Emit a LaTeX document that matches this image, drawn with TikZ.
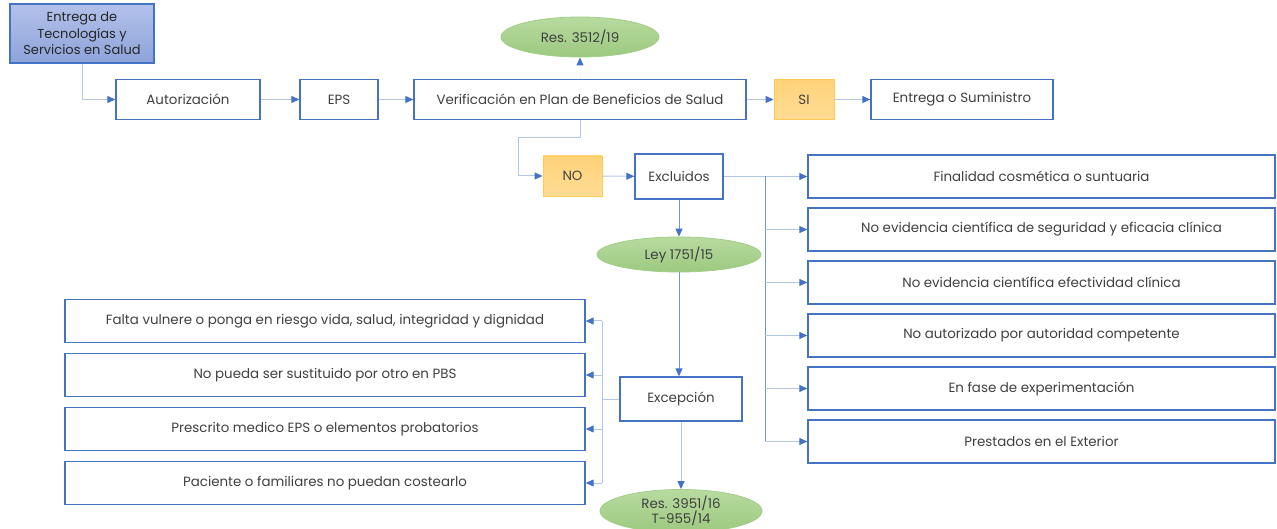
\documentclass[tikz,border=0pt]{standalone}
\usepackage{fontspec}
\setmainfont{Poppins}
\usetikzlibrary{arrows.meta,shapes.geometric,positioning}

\definecolor{boxblue}{HTML}{4472C4}
\definecolor{linelight}{HTML}{B4C7E7}
\definecolor{linemid}{HTML}{7096D6}
\definecolor{txt}{HTML}{404040}
\definecolor{entTop}{HTML}{B3C1EA}
\definecolor{entBot}{HTML}{8DA3DA}
\definecolor{yelTop}{HTML}{FFD27A}
\definecolor{yelBot}{HTML}{FFDD94}
\definecolor{yelLine}{HTML}{FFCB52}
\definecolor{grnTop}{HTML}{B8DBA0}
\definecolor{grnBot}{HTML}{9CC97F}
\definecolor{grnLine}{HTML}{A3CD88}

\begin{document}
\begin{tikzpicture}[x=1pt,y=-1pt,
  every node/.style={font=\fontsize{13.4}{15.5}\selectfont, text=txt, inner sep=0pt, align=center},
  stepbox/.style={draw=boxblue, line width=1.3pt, fill=white, rectangle},
  itembox/.style={stepbox, minimum width=467pt, minimum height=43pt},
  leftbox/.style={stepbox, minimum width=520pt, minimum height=43pt},
  decision/.style={draw=yelLine, line width=0.9pt, top color=yelTop, bottom color=yelBot, rectangle},
  normbox/.style={ellipse, draw=grnLine, line width=0.8pt, top color=grnTop, bottom color=grnBot},
  conn/.style={draw=linelight, line width=1pt, -{Triangle[length=8pt,width=7pt,color=boxblue]}},
  connmid/.style={conn, draw=linemid},
  trunk/.style={draw=linemid, line width=1pt}
]
\useasboundingbox (0,0) rectangle (1277,529);

% top row
\node[draw=boxblue, line width=1.3pt, top color=entTop, bottom color=entBot,
      minimum width=144pt, minimum height=59pt, text=black!85,
      font=\fontsize{13}{16.5}\selectfont] (ent) at (82,33.5)
      {Entrega de\\Tecnologías y\\Servicios en Salud};
\node[stepbox, minimum width=144pt, minimum height=40pt] (aut) at (188,99.5) {Autorización};
\node[stepbox, minimum width=78pt, minimum height=40pt] (eps) at (339,99.5) {EPS};
\node[stepbox, minimum width=332pt, minimum height=40pt] (ver) at (580,99.5) {Verificación en Plan de Beneficios de Salud};
\node[decision, minimum width=60pt, minimum height=40pt] (si) at (804,99.5) {SI};
\node[stepbox, minimum width=182pt, minimum height=40pt] (sum) at (962,99.5) {Entrega o Suministro};
\node[normbox, minimum width=158pt, minimum height=40pt] (res1) at (580,37) {Res. 3512/19};

% exclusions branch
\node[decision, minimum width=59pt, minimum height=40pt] (no) at (572.5,176) {NO};
\node[stepbox, minimum width=88pt, minimum height=45pt] (exc) at (679,176.5) {Excluidos};
\node[normbox, minimum width=164pt, minimum height=35pt] (ley) at (679,254.5) {Ley 1751/15};

\node[itembox] (r1) at (1041.5,176.5) {Finalidad cosmética o suntuaria};
\node[itembox] (r2) at (1041.5,229.5) {No evidencia científica de seguridad y eficacia clínica};
\node[itembox] (r3) at (1041.5,282.5) {No evidencia científica efectividad clínica};
\node[itembox] (r4) at (1041.5,335.5) {No autorizado por autoridad competente};
\node[itembox] (r5) at (1041.5,388.5) {En fase de experimentación};
\node[itembox] (r6) at (1041.5,441.5) {Prestados en el Exterior};

% exceptions branch
\node[stepbox, minimum width=122pt, minimum height=44pt] (excp) at (681,399) {Excepción};
\node[leftbox] (l1) at (325,321) {Falta vulnere o ponga en riesgo vida, salud, integridad y dignidad};
\node[leftbox] (l2) at (325,375) {No pueda ser sustituido por otro en PBS};
\node[leftbox] (l3) at (325,429) {Prescrito medico EPS o elementos probatorios};
\node[leftbox] (l4) at (325,483) {Paciente o familiares no puedan costearlo};
\node[normbox, minimum width=162pt, minimum height=36pt,
      font=\fontsize{13.4}{15.5}\selectfont] (res2) at (681,511) {Res. 3951/16\\T-955/14};

% junction points
\coordinate (jver) at (518,138);
\coordinate (jright) at (765,176.5);
\coordinate (jleft) at (602,399);
\coordinate (jleftTop) at (602,321);
\coordinate (jleftBot) at (602,483);

% connectors along the top row
\draw[conn] (ent.south) |- (aut.west);
\draw[conn] (aut) -- (eps);
\draw[conn] (eps) -- (ver);
\draw[conn] (ver) -- (si);
\draw[conn] (si) -- (sum);
\draw[conn, draw=white!93!boxblue] (ver.north) -- (res1.south);

% verification failed: down to NO
\draw[conn] (ver.south) |- (jver) |- (no.west);
\draw[conn] (no) -- (exc);
\draw[connmid] (exc.south) -- (ley.north);

% exclusion list
\draw[conn] (exc.east) -- (r1.west);
\draw[trunk] (jright) -- (jright |- r6.west);
\foreach \k in {2,...,6}{
  \draw[conn] (jright |- r\k.west) -- (r\k.west);
}

% exception list
\draw[connmid] (ley.south) -- (ley.south |- excp.north);
\draw[conn] (excp.south) -- (excp.south |- res2.north);
\draw[draw=linelight, line width=1pt] (excp.west) -- (jleft);
\draw[draw=linelight, line width=1pt] (jleftTop) -- (jleftBot);
\foreach \k in {1,...,4}{
  \draw[conn] (jleft |- l\k.east) -- (l\k.east);
}
\end{tikzpicture}
\end{document}
